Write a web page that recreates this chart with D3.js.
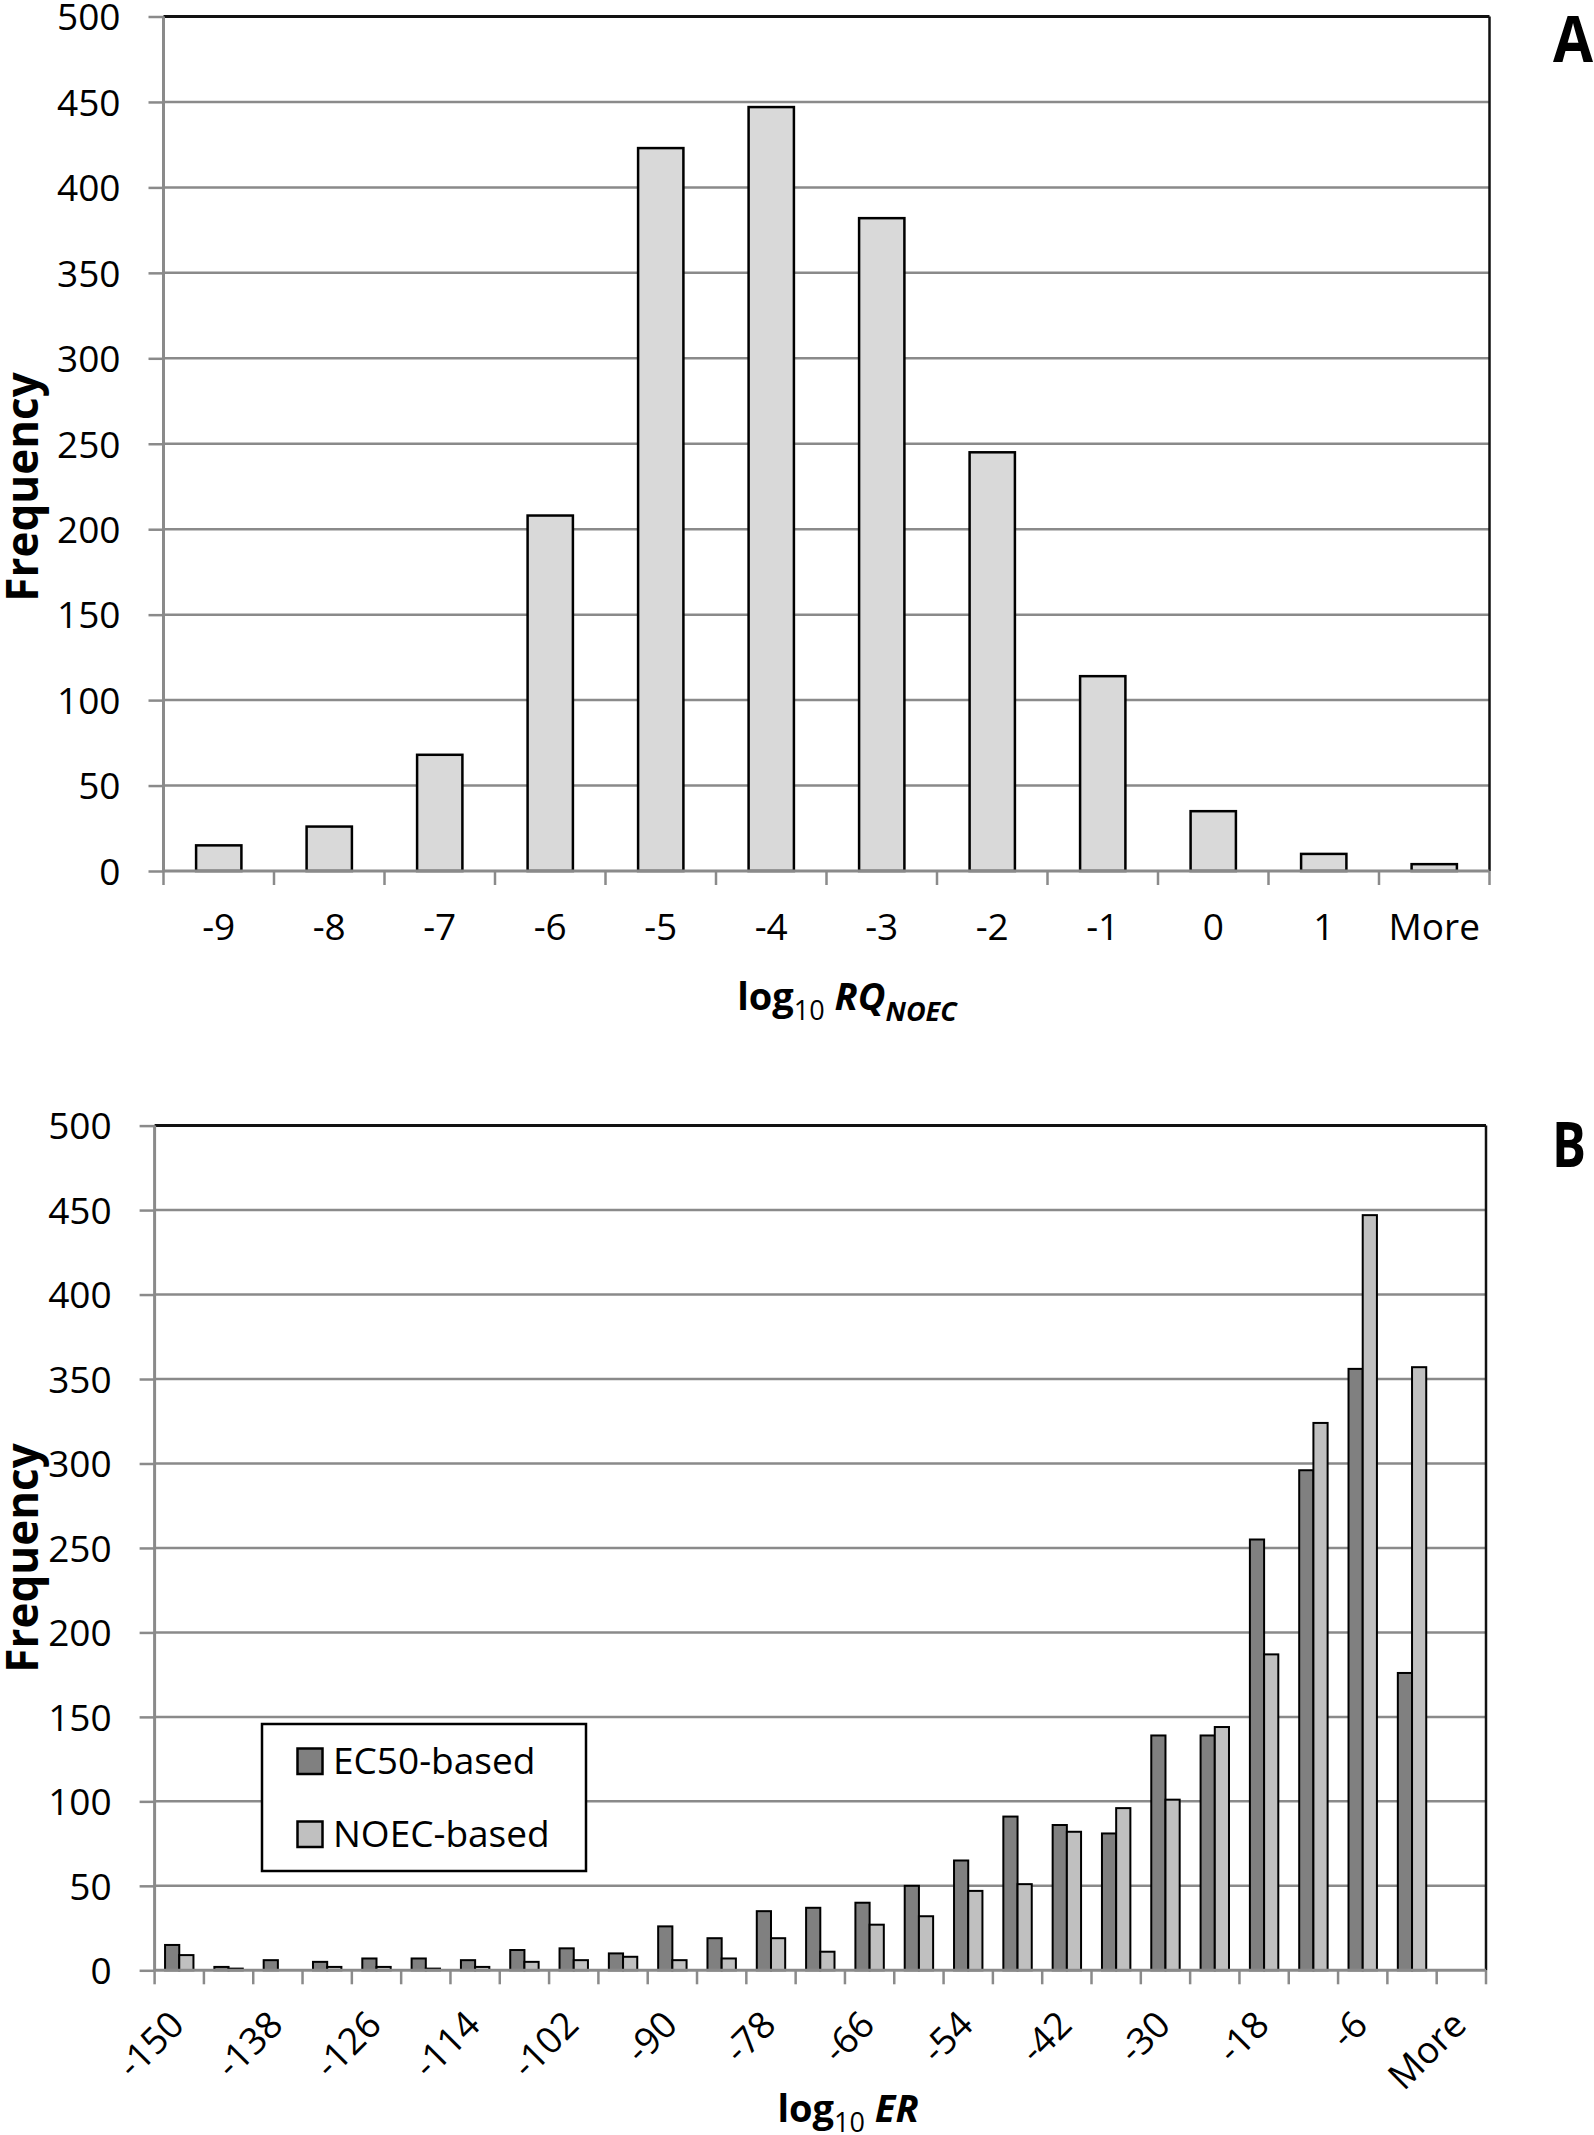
<!DOCTYPE html>
<html>
<head>
<meta charset="utf-8">
<script src="https://cdn.jsdelivr.net/npm/d3@7"></script>
<style>
  html, body { margin: 0; padding: 0; background: #fff; }
  svg { display: block; }
  text { font-family: 'Open Sans', 'Liberation Sans', sans-serif; fill: #000; }
</style>
</head>
<body>
<svg id="chart" width="1594" height="2135"></svg>
<script>
// ---------- DATA ----------
const categoriesA = ["-9", "-8", "-7", "-6", "-5", "-4", "-3", "-2", "-1", "0", "1", "More"];
const valuesA = [15, 26, 68, 208, 423, 447, 382, 245, 114, 35, 10, 4];

const categoriesB = ["-150", "-144", "-138", "-132", "-126", "-120", "-114", "-108", "-102", "-96",
                     "-90", "-84", "-78", "-72", "-66", "-60", "-54", "-48", "-42", "-36",
                     "-30", "-24", "-18", "-12", "-6", "0", "More"];
const ec50Values = [15, 2, 6, 5, 7, 7, 6, 12, 13, 10, 26, 19, 35, 37, 40, 50, 65, 91, 86, 81,
                    139, 139, 255, 296, 356, 176, 0];
const noecValues = [9, 1, 0, 2, 2, 1, 2, 5, 6, 8, 6, 7, 19, 11, 27, 32, 47, 51, 82, 96,
                    101, 144, 187, 324, 447, 357, 0];
const seriesNamesB = ["EC50-based", "NOEC-based"];
const yTicks = [0, 50, 100, 150, 200, 250, 300, 350, 400, 450, 500];
const labelsShownB = ["-150", "-138", "-126", "-114", "-102", "-90", "-78", "-66", "-54", "-42", "-30", "-18", "-6", "More"];

// ---------- STYLE ----------
const gridColor = "#8a8a8a";
const axisColor = "#8a8a8a";
const fillA = "#d9d9d9";
const fillEC = "#808080";
const fillNO = "#c0c0c0";
const tickFont = 37;

const svg = d3.select("#chart");

function drawFrame(g, x, y, L, R, T, B) {
  g.append("g").selectAll("line").data(yTicks.filter(v => v > 0 && v < 500)).join("line")
    .attr("x1", L).attr("x2", R).attr("y1", d => y(d)).attr("y2", d => y(d))
    .attr("stroke", gridColor).attr("stroke-width", 2.5);
  const ya = g.append("g").attr("transform", `translate(${L},0)`)
    .call(d3.axisLeft(y).tickValues(yTicks).tickSize(15).tickPadding(28));
  ya.select(".domain").remove();
  ya.selectAll(".tick line").attr("stroke", axisColor).attr("stroke-width", 2.5);
  ya.selectAll(".tick text").attr("font-size", tickFont).attr("font-family", "'Open Sans', sans-serif")
    .attr("fill", "#000").attr("dy", "0.36em");
  const bounds = x.domain().map(d => x(d)).concat([R]);
  g.append("g").selectAll("line").data(bounds).join("line")
    .attr("x1", d => d).attr("x2", d => d).attr("y1", B).attr("y2", B + 14)
    .attr("stroke", axisColor).attr("stroke-width", 2.5);
}

function drawBorders(g, L, R, T, B) {
  g.append("line").attr("x1", L).attr("x2", R).attr("y1", T).attr("y2", T)
    .attr("stroke", "#111").attr("stroke-width", 3);
  g.append("line").attr("x1", R).attr("x2", R).attr("y1", T).attr("y2", B)
    .attr("stroke", "#111").attr("stroke-width", 2.5);
  g.append("line").attr("x1", L).attr("x2", L).attr("y1", T).attr("y2", B)
    .attr("stroke", axisColor).attr("stroke-width", 3);
  g.append("line").attr("x1", L).attr("x2", R).attr("y1", B).attr("y2", B)
    .attr("stroke", axisColor).attr("stroke-width", 3);
}

// ---------- PANEL A ----------
{
  const L = 163.5, R = 1489.5, T = 16.5, B = 871;
  const x = d3.scaleBand().domain(categoriesA).range([L, R]);
  const y = d3.scaleLinear().domain([0, 500]).range([B, T]);
  const g = svg.append("g");
  drawFrame(g, x, y, L, R, T, B);
  const bw = x.bandwidth() * 0.41;
  g.append("g").selectAll("rect").data(valuesA).join("rect")
    .attr("x", (d, i) => x(categoriesA[i]) + (x.bandwidth() - bw) / 2)
    .attr("width", bw)
    .attr("y", d => y(d)).attr("height", d => B - y(d))
    .attr("fill", fillA).attr("stroke", "#000").attr("stroke-width", 2.5);
  drawBorders(g, L, R, T, B);
  g.append("g").selectAll("text").data(categoriesA).join("text")
    .attr("x", d => x(d) + x.bandwidth() / 2).attr("y", 940)
    .attr("text-anchor", "middle").attr("font-size", tickFont).text(d => d);
  const t = g.append("text").attr("x", 847).attr("y", 1010).attr("text-anchor", "middle")
    .attr("font-size", 38).attr("font-weight", "bold");
  t.append("tspan").text("log");
  t.append("tspan").attr("font-size", 27).attr("font-weight", "normal").attr("dy", 10).text("10");
  t.append("tspan").attr("dy", -10).text("\u00a0");
  t.append("tspan").attr("font-style", "italic").text("RQ");
  t.append("tspan").attr("font-style", "italic").attr("font-size", 27).attr("dy", 11).text("NOEC");
  g.append("text").attr("transform", "translate(38,487) rotate(-90)").attr("text-anchor", "middle")
    .attr("font-size", 44).attr("font-weight", "bold").text("Frequency");
  g.append("text").attr("x", 1553).attr("y", 62).attr("font-size", 64).attr("font-weight", "bold")
    .attr("textLength", 40).attr("lengthAdjust", "spacingAndGlyphs").text("A");
}

// ---------- PANEL B ----------
{
  const L = 154.6, R = 1486, T = 1125.6, B = 1970.3;
  const x = d3.scaleBand().domain(categoriesB).range([L, R]);
  const y = d3.scaleLinear().domain([0, 500]).range([B, T]);
  const g = svg.append("g");
  drawFrame(g, x, y, L, R, T, B);
  const gw = x.bandwidth() * 0.576;
  const inner = d3.scaleBand().domain(seriesNamesB).range([0, gw]);
  const fills = [fillEC, fillNO];
  [ec50Values, noecValues].forEach((vals, s) => {
    g.append("g").selectAll("rect").data(vals).join("rect")
      .attr("x", (d, i) => x(categoriesB[i]) + (x.bandwidth() - gw) / 2 + inner(seriesNamesB[s]))
      .attr("width", inner.bandwidth())
      .attr("y", d => y(d)).attr("height", d => B - y(d))
      .attr("fill", fills[s]).attr("stroke", "#000").attr("stroke-width", 2)
      .attr("display", d => d > 0 ? null : "none");
  });
  drawBorders(g, L, R, T, B);
  g.append("g").selectAll("text").data(labelsShownB).join("text")
    .attr("transform", d => `translate(${x(d) + x.bandwidth() / 2 + 7},2027) rotate(-45)`)
    .attr("text-anchor", "end").attr("font-size", tickFont).text(d => d);
  const t = g.append("text").attr("x", 848).attr("y", 2122).attr("text-anchor", "middle")
    .attr("font-size", 38).attr("font-weight", "bold");
  t.append("tspan").text("log");
  t.append("tspan").attr("font-size", 27).attr("font-weight", "normal").attr("dy", 10).text("10");
  t.append("tspan").attr("dy", -10).text("\u00a0");
  t.append("tspan").attr("font-style", "italic").text("ER");
  g.append("text").attr("transform", "translate(38,1558) rotate(-90)").attr("text-anchor", "middle")
    .attr("font-size", 44).attr("font-weight", "bold").text("Frequency");
  g.append("text").attr("x", 1552).attr("y", 1167).attr("font-size", 63).attr("font-weight", "bold")
    .attr("textLength", 34).attr("lengthAdjust", "spacingAndGlyphs").text("B");
  const lg = g.append("g");
  lg.append("rect").attr("x", 262).attr("y", 1724).attr("width", 324).attr("height", 147)
    .attr("fill", "#fff").attr("stroke", "#000").attr("stroke-width", 2.5);
  const legY = [1748.5, 1821.5];
  seriesNamesB.forEach((name, i) => {
    lg.append("rect").attr("x", 297.5).attr("y", legY[i]).attr("width", 25).attr("height", 25.5)
      .attr("fill", fills[i]).attr("stroke", "#000").attr("stroke-width", 2.5);
    lg.append("text").attr("x", 333).attr("y", legY[i] + 25.5).attr("font-size", tickFont).text(name);
  });
}
</script>
</body>
</html>
